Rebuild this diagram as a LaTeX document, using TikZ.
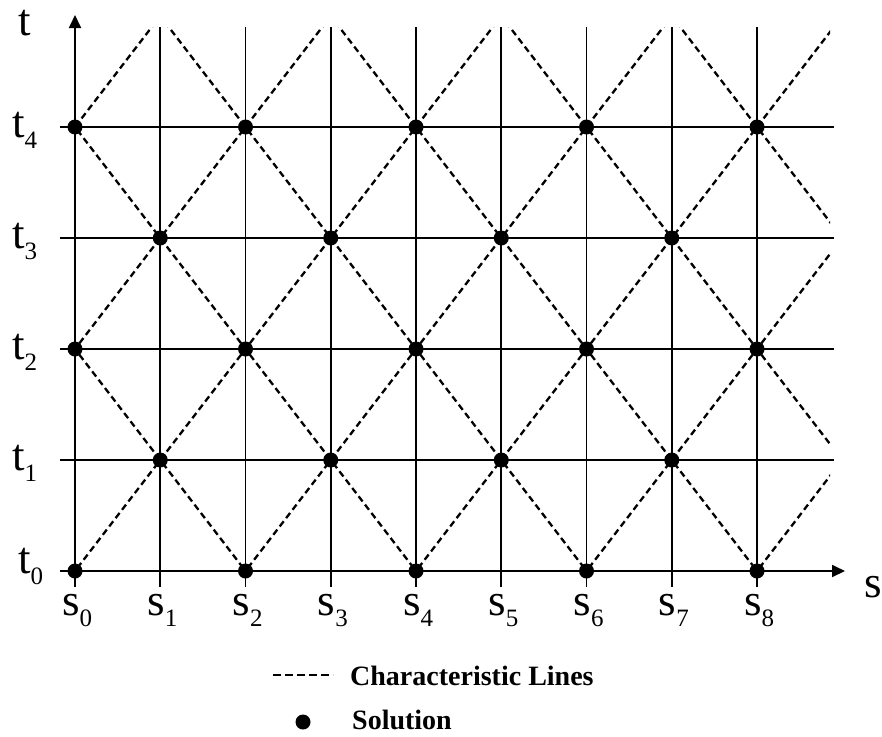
\documentclass[tikz,border=0pt]{standalone}
\usepackage{fontspec}
\setmainfont{Liberation Serif}
\usetikzlibrary{arrows.meta}
\newcommand{\lbl}[2]{#1\raisebox{-11pt}{\fontsize{25}{25}\selectfont #2}}
\begin{document}
\begin{tikzpicture}[x=1pt,y=-1pt,
  gridline/.style={line width=1.8pt, black},
  axisline/.style={line width=1.8pt, black, -{Triangle[length=13pt,width=12pt]}},
  charline/.style={line width=2.3pt, black, dash pattern=on 6.5pt off 4pt},
  soldot/.style={circle, fill=black, inner sep=0pt, minimum size=15pt},
  biglabel/.style={font=\fontsize{45}{45}\selectfont, inner sep=0pt, anchor=base west},
  legendtext/.style={font=\fontsize{28}{28}\selectfont\bfseries, inner sep=0pt, anchor=base west}]
\useasboundingbox (0,0) rectangle (882,736);
% grid points
\foreach \i in {0,...,8}{
  \foreach \j in {0,...,4}{
    \coordinate (g-\i-\j) at ({75+85.25*\i},{571-111*\j});
  }
}
% vertical grid lines
\foreach \i in {1,...,8}{
  \draw[gridline] ([yshift=-16pt]g-\i-0) -- ([yshift=100pt]g-\i-4);
}
% horizontal grid lines
\foreach \j in {1,...,4}{
  \draw[gridline] ([xshift=-15pt]g-0-\j) -- ([xshift=77pt]g-8-\j);
}
% axes
\coordinate (tend) at ([yshift=112pt]g-0-4);
\coordinate (send) at ([xshift=88pt]g-8-0);
\draw[axisline] ([yshift=-16pt]g-0-0) -- (tend);
\draw[axisline] ([xshift=-15pt]g-0-0) -- (send);
% characteristic lines
\begin{scope}
  \clip (g-0-0) rectangle ([xshift=73pt,yshift=100pt]g-8-4);
  \foreach \c in {-4,-2,...,8}{
    \draw[charline] ({75+85.25*(\c-5)},{571+111*5}) -- ({75+85.25*(\c+10)},{571-111*10});
  }
  \foreach \c in {2,4,...,12}{
    \draw[charline] ({75+85.25*(\c+5)},{571+111*5}) -- ({75+85.25*(\c-10)},{571-111*10});
  }
\end{scope}
% solution points
\foreach \i in {0,...,8}{
  \foreach \j in {0,...,4}{
    \pgfmathtruncatemacro{\parity}{mod(\i+\j,2)}
    \ifnum\parity=0
      \node[soldot] (d-\i-\j) at (g-\i-\j) {};
    \fi
  }
}
% axis labels
\node[biglabel] (tlabel) at (18,35) {t};
\node[biglabel] (slabel) at (864,597) {s};
% t labels
\node[biglabel] (lt0) at (18,573) {\lbl{t}{0}};
\foreach \j in {1,...,4}{
  \node[biglabel] (lt\j) at ([xshift=-63pt,yshift=-10pt]g-0-\j) {\lbl{t}{\j}};
}
% s labels
\foreach \i in {0,...,8}{
  \node[biglabel] (ls\i) at ([xshift=-13pt,yshift=-44pt]g-\i-0) {\lbl{s}{\i}};
}
% legend
\coordinate (leg1a) at (273,675);
\coordinate (leg1b) at (333,675);
\draw[line width=1.3pt, dash pattern=on 8pt off 4pt] (leg1a) -- (leg1b);
\node[legendtext] (legtext1) at (350,685) {Characteristic Lines};
\node[soldot] (legdot) at (303,722) {};
\node[legendtext] (legtext2) at (352,729) {Solution};
\end{tikzpicture}
\end{document}
